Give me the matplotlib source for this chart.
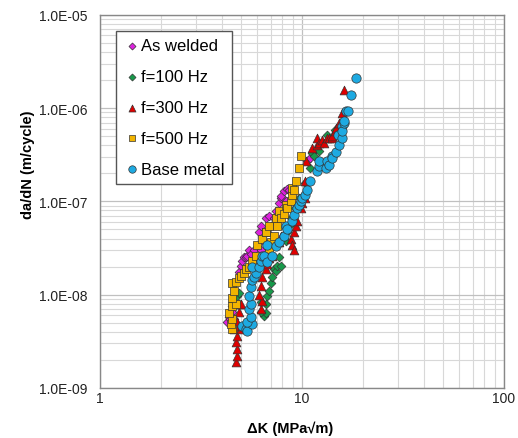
import numpy as np
import matplotlib
matplotlib.use('Agg')
import matplotlib.pyplot as plt
from matplotlib.ticker import FixedLocator, FuncFormatter, LogLocator, NullFormatter

plt.rcParams['font.family'] = ['Liberation Sans', 'DejaVu Sans']

# Data (dK in MPa*sqrt(m), da/dN in m/cycle)
aw_dk = [4.27, 4.37, 4.42, 4.47, 4.52, 4.52, 4.62, 4.89, 5.01, 5.06, 5.18, 5.30, 5.36, 5.48,
         5.61, 5.8, 6.01, 6.15, 6.29, 6.29, 6.51, 6.66, 6.74, 6.89, 7.05, 7.3, 7.46, 7.72,
         7.72, 7.89, 7.89, 8.17, 8.36, 8.46, 8.65, 10.6, 10.9]
aw_da = [5.1e-9, 5.8e-9, 5.5e-9, 6.7e-9, 5.9e-9, 6.6e-9, 5.5e-9, 1.77e-8, 2.05e-8, 2.3e-8,
         2.56e-8, 2.56e-8, 2.6e-8, 3.0e-8, 2.76e-8, 3.0e-8, 2.56e-8, 4.75e-8, 3.0e-8, 5.5e-8,
         3.7e-8, 6.6e-8, 4.75e-8, 6.9e-8, 5.5e-8, 6.6e-8, 7.8e-8, 7.4e-8, 9.5e-8, 1.08e-7,
         1.13e-7, 1.28e-7, 1.0e-7, 1.35e-7, 1.31e-7, 2.7e-7, 2.9e-7]

f100_dk = [4.52, 4.62, 4.78, 4.89, 6.51, 6.66, 6.29, 6.66, 6.29, 6.74, 6.89, 7.05, 7.13,
           7.3, 7.46, 7.55, 7.72, 7.89, 8.17, 8.36, 8.46, 8.65, 8.85, 9.27, 9.7, 10.3, 10.9,
           11.2, 11.5, 12.2, 13.3, 14.5]
f100_da = [7.6e-9, 8.6e-9, 9.6e-9, 1.03e-8, 5.9e-9, 6.3e-9, 6.6e-9, 8.0e-9, 8.4e-9, 9.6e-9,
           1.1e-8, 1.32e-8, 1.56e-8, 1.9e-8, 1.8e-8, 2.05e-8, 2.56e-8, 2.05e-8, 4.0e-8, 3.8e-8,
           4.75e-8, 5.4e-8, 6.6e-8, 8.4e-8, 1.08e-7, 1.56e-7, 2.26e-7, 3.3e-7, 3.1e-7, 3.5e-7,
           5.1e-7, 5.8e-7]

f300_dk = [4.73, 4.78, 4.78, 4.73, 4.78, 4.62, 4.89, 5.01, 5.06, 4.78, 4.89, 4.89, 5.01,
           6.29, 6.36, 6.15, 6.29, 6.36, 6.66, 6.74, 6.89, 7.13, 7.72, 7.89, 8.85, 8.96,
           9.17, 9.17, 9.38, 9.48, 9.93, 10.0, 10.3, 10.3, 10.5, 11.2, 11.8, 11.9, 12.2,
           12.6, 12.9, 13.3, 13.6, 14.0, 14.1, 14.5, 14.8, 15.3, 15.7, 16.2]
f300_da = [1.9e-9, 2.2e-9, 2.6e-9, 3.1e-9, 3.6e-9, 4.3e-9, 4.6e-9, 4.3e-9, 4.6e-9, 5.1e-9,
           6.6e-9, 8.0e-9, 8.0e-9, 7.1e-9, 8.6e-9, 9.8e-9, 1.25e-8, 1.56e-8, 1.9e-8, 2.15e-8,
           2.45e-8, 2.6e-8, 3.7e-8, 4.3e-8, 4.0e-8, 3.4e-8, 3.0e-8, 4.75e-8, 5.5e-8, 6.2e-8,
           8.4e-8, 9.5e-8, 1.08e-7, 1.64e-7, 2.7e-7, 3.7e-7, 4.0e-7, 4.75e-7, 4.2e-7, 4.5e-7,
           4.2e-7, 4.75e-7, 4.75e-7, 4.75e-7, 5.0e-7, 5.7e-7, 6.1e-7, 6.9e-7, 8.8e-7, 1.56e-6]

f500_dk = [4.52, 4.47, 4.52, 4.37, 4.52, 4.73, 4.52, 4.62, 4.52, 4.73, 4.89, 5.01, 5.18,
           5.30, 5.48, 5.67, 5.94, 6.01, 6.36, 6.51, 6.66, 6.66, 6.74, 6.89, 6.89, 7.05, 7.3,
           7.46, 7.55, 7.72, 7.89, 8.17, 8.36, 8.46, 8.85, 8.96, 8.96, 9.17, 9.38, 9.7, 9.93]
f500_da = [4.3e-9, 4.9e-9, 5.5e-9, 6.3e-9, 7.6e-9, 8.0e-9, 9.1e-9, 1.1e-8, 1.32e-8, 1.38e-8,
           1.5e-8, 1.6e-8, 1.7e-8, 1.9e-8, 2.0e-8, 2.3e-8, 2.6e-8, 3.4e-8, 4.0e-8, 2.26e-8,
           4.75e-8, 4.75e-8, 2.6e-8, 3.1e-8, 5.4e-8, 3.7e-8, 4.3e-8, 6.6e-8, 5.5e-8, 7.8e-8,
           6.6e-8, 7.4e-8, 9.1e-8, 8.4e-8, 1.0e-7, 1.16e-7, 1.38e-7, 1.31e-7, 1.64e-7, 2.26e-7,
           3.1e-7]

base_dk = [5.06, 5.3, 5.36, 5.67, 5.36, 5.61, 5.48, 5.61, 5.48, 5.61, 5.67, 5.8, 5.94, 5.67,
           6.15, 6.29, 6.36, 6.51, 6.74, 6.74, 7.13, 7.46, 7.72, 8.17, 8.36, 8.46, 8.96, 9.17,
           9.48, 9.7, 9.93, 10.0, 10.3, 10.6, 10.9, 11.8, 12.2, 12.2, 13.1, 13.3, 13.6, 14.0,
           14.1, 14.8, 15.0, 15.3, 15.7, 15.7, 15.8, 16.2, 16.2, 16.6, 16.8, 17.5, 18.6]
base_da = [4.6e-9, 4.3e-9, 4.1e-9, 4.9e-9, 5.1e-9, 5.8e-9, 7.1e-9, 8.0e-9, 9.6e-9, 1.2e-8,
           1.42e-8, 1.56e-8, 1.7e-8, 2.0e-8, 2.0e-8, 2.3e-8, 2.6e-8, 2.6e-8, 2.26e-8, 3.4e-8,
           2.6e-8, 3.3e-8, 3.7e-8, 4.3e-8, 5.5e-8, 5.1e-8, 6.1e-8, 7.1e-8, 8.4e-8, 9.1e-8,
           1.0e-7, 1.08e-7, 1.16e-7, 1.31e-7, 1.64e-7, 2.1e-7, 2.38e-7, 2.7e-7, 2.26e-7,
           2.7e-7, 2.44e-7, 3.1e-7, 2.9e-7, 3.4e-7, 5.1e-7, 4.0e-7, 4.75e-7, 6.4e-7, 5.7e-7,
           6.9e-7, 7.2e-7, 9.3e-7, 9.3e-7, 1.38e-6, 2.1e-6]

y_ticks = [1e-9, 1e-8, 1e-7, 1e-6, 1e-5]
x_ticks = [1, 10, 100]

fig = plt.figure(figsize=(5.18, 4.39), dpi=100)
ax = fig.add_axes([0.193, 0.114, 0.780, 0.850])

ax.scatter(aw_dk, aw_da, marker='D', s=20, c='#dd22dd', edgecolors='#333333', linewidths=0.5,
           label='As welded', zorder=3)
ax.scatter(f100_dk, f100_da, marker='D', s=20, c='#17994a', edgecolors='#333333', linewidths=0.5,
           label='f=100 Hz', zorder=3)
ax.scatter(f300_dk, f300_da, marker='^', s=40, c='#e00000', edgecolors='#333333', linewidths=0.5,
           label='f=300 Hz', zorder=3)
ax.scatter(f500_dk, f500_da, marker='s', s=30, c='#f2b400', edgecolors='#333333', linewidths=0.5,
           label='f=500 Hz', zorder=3)
ax.scatter(base_dk, base_da, marker='o', s=45, c='#1eaae2', edgecolors='#333333', linewidths=0.5,
           label='Base metal', zorder=3)

ax.set_xscale('log')
ax.set_yscale('log')
ax.set_xlim(1, 100)
ax.set_ylim(1e-9, 1e-5)

ax.xaxis.set_major_locator(FixedLocator(x_ticks))
ax.yaxis.set_major_locator(FixedLocator(y_ticks))
ax.xaxis.set_minor_locator(LogLocator(base=10, subs=np.arange(2, 10)))
ax.yaxis.set_minor_locator(LogLocator(base=10, subs=np.arange(2, 10)))
ax.xaxis.set_minor_formatter(NullFormatter())
ax.yaxis.set_minor_formatter(NullFormatter())
ax.xaxis.set_major_formatter(FuncFormatter(lambda v, p: f'{v:g}'))
ax.yaxis.set_major_formatter(FuncFormatter(lambda v, p: f'{v:.1E}'))

ax.grid(which='major', color='#c0c0c0', linewidth=0.9)
ax.grid(which='minor', color='#d8d8d8', linewidth=0.8)
ax.set_axisbelow(True)
ax.tick_params(which='both', length=0)
ax.tick_params(axis='y', labelsize=10, colors='#222222', pad=9)
ax.tick_params(axis='x', labelsize=10, colors='#222222', pad=2)
for s in ax.spines.values():
    s.set_color('#888888')
    s.set_linewidth(1.0)

ax.set_xlabel('\u0394K (MPa\u221am)', fontsize=10.5, fontweight='bold')
ax.set_ylabel('da/dN (m/cycle)', fontsize=10.5, fontweight='bold')
ax.xaxis.set_label_coords(0.47, -0.088)
ax.yaxis.set_label_coords(-0.16, 0.60)

leg = ax.legend(loc='upper left', bbox_to_anchor=(0.0396, 0.957), borderaxespad=0,
                fontsize=12, labelspacing=0.95, handletextpad=0.05, handlelength=1.0,
                borderpad=0.45, fancybox=False, framealpha=1, markerscale=0.8)
leg.get_frame().set_edgecolor('#555555')
leg.get_frame().set_linewidth(1.0)

fig.savefig('out.png', dpi=100)
